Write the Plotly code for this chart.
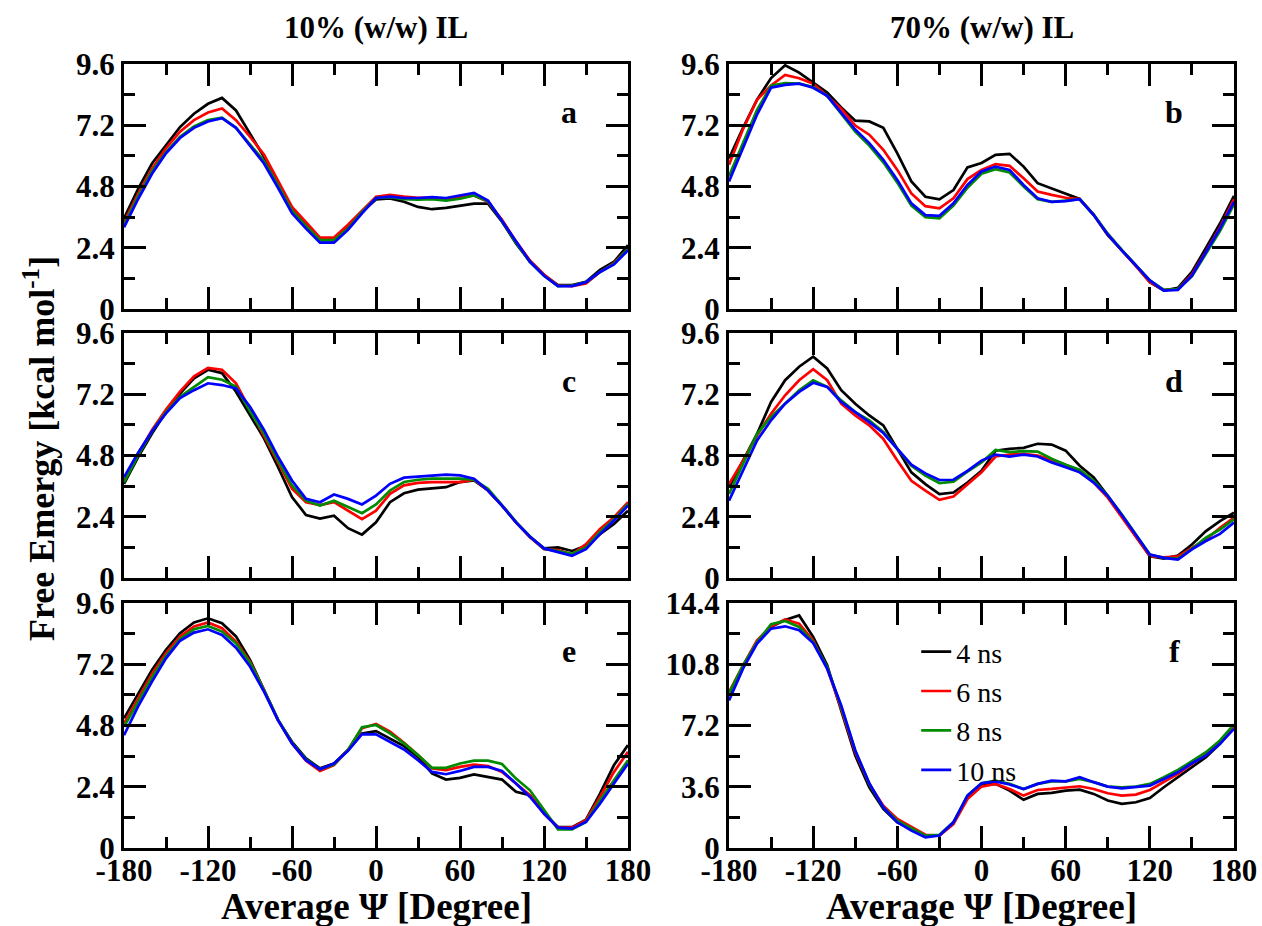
import plotly.graph_objects as go

# ---------------- data ----------------
psi = [-180, -170, -160, -150, -140, -130, -120, -110, -100, -90, -80, -70, -60, -50, -40, -30, -20, -10,
       0, 10, 20, 30, 40, 50, 60, 70, 80, 90, 100, 110, 120, 130, 140, 150, 160, 170, 180]

series_names = ["4 ns", "6 ns", "8 ns", "10 ns"]
series_colors = ["#000000", "#ff0000", "#008b00", "#0000ff"]

# panel a : 10% IL
a_4 = [3.55, 4.7, 5.7, 6.4, 7.13, 7.65, 8.04, 8.27, 7.78, 6.87, 5.96, 4.85, 3.87, 3.29, 2.7, 2.7, 3.22, 3.81,
       4.29, 4.33, 4.2, 4.0, 3.91, 3.96, 4.04, 4.13, 4.13, 3.42, 2.57, 1.85, 1.33, 0.94, 0.94, 1.07, 1.53, 1.85, 2.5]
a_6 = [3.4, 4.5, 5.5, 6.3, 6.95, 7.4, 7.7, 7.86, 7.4, 6.75, 6.05, 5.0, 4.0, 3.4, 2.8, 2.8, 3.3, 3.85,
       4.4, 4.47, 4.4, 4.36, 4.36, 4.32, 4.38, 4.45, 4.2, 3.5, 2.65, 1.9, 1.35, 0.92, 0.9, 1.0, 1.45, 1.8, 2.35]
a_8 = [3.3, 4.4, 5.4, 6.15, 6.75, 7.15, 7.4, 7.5, 7.1, 6.45, 5.8, 4.85, 3.85, 3.25, 2.7, 2.7, 3.15, 3.8,
       4.35, 4.38, 4.3, 4.28, 4.3, 4.25, 4.32, 4.45, 4.22, 3.45, 2.6, 1.85, 1.3, 0.9, 0.92, 1.05, 1.45, 1.78, 2.35]
a_10 = [3.2, 4.3, 5.3, 6.1, 6.7, 7.1, 7.35, 7.48, 7.1, 6.4, 5.7, 4.75, 3.75, 3.15, 2.6, 2.6, 3.1, 3.75,
        4.35, 4.4, 4.35, 4.35, 4.38, 4.35, 4.45, 4.55, 4.25, 3.45, 2.6, 1.85, 1.3, 0.9, 0.9, 1.05, 1.45, 1.75, 2.3]

# panel b : 70% IL
b_4 = [5.9, 7.1, 8.2, 9.05, 9.55, 9.26, 8.87, 8.48, 7.9, 7.38, 7.35, 7.1, 6.1, 5.0, 4.4, 4.3, 4.66, 5.55,
       5.72, 6.04, 6.08, 5.58, 4.93, 4.73, 4.5, 4.31, 3.68, 2.89, 2.3, 1.71, 1.05, 0.72, 0.83, 1.45, 2.39, 3.35, 4.43]
b_6 = [5.65, 7.05, 8.2, 8.76, 9.17, 9.04, 8.83, 8.35, 7.85, 7.19, 6.83, 6.24, 5.45, 4.53, 4.03, 3.94, 4.34, 5.09,
       5.45, 5.68, 5.61, 5.12, 4.6, 4.47, 4.36, 4.31, 3.7, 2.92, 2.28, 1.68, 1.05, 0.75, 0.78, 1.35, 2.25, 3.2, 4.3]
b_8 = [5.2, 6.5, 7.8, 8.75, 8.85, 8.83, 8.7, 8.35, 7.65, 6.95, 6.4, 5.75, 4.95, 4.05, 3.6, 3.55, 4.05, 4.75,
       5.3, 5.48, 5.35, 4.8, 4.3, 4.2, 4.25, 4.3, 3.7, 2.95, 2.32, 1.72, 1.12, 0.75, 0.78, 1.28, 2.15, 3.05, 4.1]
b_10 = [5.0, 6.3, 7.62, 8.67, 8.78, 8.83, 8.67, 8.35, 7.69, 7.03, 6.5, 5.85, 5.06, 4.14, 3.68, 3.65, 4.14, 4.86,
        5.39, 5.58, 5.45, 4.86, 4.34, 4.2, 4.23, 4.3, 3.68, 2.92, 2.3, 1.71, 1.12, 0.72, 0.75, 1.31, 2.23, 3.15, 4.2]

# panel c : 10% IL
c_4 = [3.69, 4.73, 5.66, 6.5, 7.23, 7.82, 8.16, 8.03, 7.3, 6.39, 5.47, 4.35, 3.17, 2.47, 2.33, 2.44, 1.95, 1.7,
       2.18, 2.97, 3.32, 3.46, 3.52, 3.56, 3.76, 3.82, 3.43, 2.84, 2.18, 1.62, 1.16, 1.2, 1.06, 1.26, 1.72, 2.12, 2.64]
c_6 = [3.8, 4.85, 5.8, 6.6, 7.3, 7.9, 8.23, 8.16, 7.63, 6.6, 5.53, 4.55, 3.5, 2.97, 2.86, 2.97, 2.64, 2.31,
       2.64, 3.3, 3.63, 3.73, 3.76, 3.76, 3.76, 3.85, 3.43, 2.84, 2.18, 1.6, 1.13, 1.09, 0.93, 1.33, 1.92, 2.38, 2.97]
c_8 = [3.75, 4.8, 5.75, 6.5, 7.1, 7.5, 7.87, 7.77, 7.5, 6.53, 5.66, 4.61, 3.63, 3.03, 2.84, 3.03, 2.77, 2.54,
       2.88, 3.43, 3.76, 3.85, 3.89, 3.89, 3.89, 3.85, 3.5, 2.86, 2.2, 1.63, 1.15, 1.05, 0.95, 1.2, 1.8, 2.3, 2.9]
c_10 = [3.95, 4.9, 5.75, 6.45, 7.05, 7.36, 7.63, 7.56, 7.43, 6.71, 5.8, 4.75, 3.82, 3.1, 2.97, 3.27, 3.1, 2.88,
        3.23, 3.69, 3.93, 3.98, 4.02, 4.05, 4.02, 3.89, 3.43, 2.84, 2.18, 1.62, 1.16, 1.0, 0.87, 1.13, 1.72, 2.25, 2.84]

# panel d : 70% IL
d_4 = [3.55, 4.6, 5.65, 6.9, 7.75, 8.28, 8.67, 8.21, 7.36, 6.83, 6.37, 5.98, 5.06, 4.14, 3.68, 3.29, 3.35, 3.74,
       4.2, 4.99, 5.06, 5.1, 5.26, 5.23, 4.99, 4.4, 3.94, 3.22, 2.43, 1.64, 0.85, 0.76, 0.88, 1.31, 1.84, 2.23, 2.56]
d_6 = [3.68, 4.6, 5.58, 6.44, 7.16, 7.75, 8.18, 7.75, 6.83, 6.37, 5.98, 5.45, 4.6, 3.81, 3.42, 3.06, 3.19, 3.68,
       4.14, 4.76, 4.84, 4.86, 4.8, 4.63, 4.44, 4.2, 3.74, 3.15, 2.37, 1.64, 0.85, 0.81, 0.85, 1.18, 1.51, 1.97, 2.37]
d_8 = [3.29, 4.47, 5.65, 6.31, 6.83, 7.36, 7.75, 7.49, 6.96, 6.5, 6.18, 5.72, 5.06, 4.4, 4.01, 3.72, 3.77, 4.17,
       4.53, 5.02, 4.93, 4.97, 4.95, 4.67, 4.44, 4.24, 3.81, 3.22, 2.5, 1.71, 0.92, 0.79, 0.76, 1.14, 1.58, 1.9, 2.3]
d_10 = [3.03, 4.2, 5.39, 6.18, 6.83, 7.29, 7.65, 7.49, 6.9, 6.5, 6.11, 5.68, 5.06, 4.44, 4.1, 3.84, 3.85, 4.2,
        4.6, 4.83, 4.76, 4.83, 4.76, 4.53, 4.34, 4.14, 3.74, 3.22, 2.47, 1.71, 0.92, 0.79, 0.72, 1.12, 1.45, 1.73, 2.17]

# panel e : 10% IL
e_4 = [5.08, 6.06, 6.98, 7.77, 8.42, 8.84, 9.0, 8.81, 8.29, 7.37, 6.19, 5.01, 4.16, 3.51, 3.12, 3.31, 3.84, 4.49,
       4.58, 4.29, 3.99, 3.57, 2.92, 2.68, 2.75, 2.88, 2.79, 2.68, 2.2, 2.07, 1.35, 0.82, 0.82, 1.11, 2.13, 3.25, 4.03]
e_6 = [4.88, 5.86, 6.82, 7.64, 8.29, 8.68, 8.84, 8.61, 8.09, 7.3, 6.19, 5.01, 4.1, 3.42, 3.02, 3.25, 3.84, 4.69,
       4.86, 4.56, 4.12, 3.64, 3.12, 3.05, 3.18, 3.27, 3.21, 2.98, 2.53, 2.07, 1.35, 0.8, 0.8, 1.09, 2.0, 2.98, 3.77]
e_8 = [4.75, 5.73, 6.69, 7.53, 8.19, 8.57, 8.7, 8.48, 8.02, 7.26, 6.19, 5.04, 4.12, 3.47, 3.09, 3.27, 3.84, 4.73,
       4.82, 4.49, 4.1, 3.64, 3.14, 3.14, 3.31, 3.42, 3.42, 3.29, 2.72, 2.26, 1.48, 0.73, 0.73, 1.02, 1.87, 2.66, 3.44]
e_10 = [4.42, 5.54, 6.52, 7.43, 8.12, 8.44, 8.57, 8.35, 7.85, 7.11, 6.13, 5.01, 4.1, 3.44, 3.09, 3.31, 3.81, 4.46,
        4.45, 4.16, 3.86, 3.44, 2.98, 2.89, 3.02, 3.18, 3.18, 3.02, 2.53, 2.0, 1.35, 0.8, 0.76, 1.02, 1.74, 2.53, 3.31]

# panel f : 70% IL
f_4 = [9.0, 10.66, 12.13, 13.0, 13.4, 13.67, 12.41, 10.74, 8.08, 5.43, 3.57, 2.3, 1.51, 1.12, 0.73, 0.73, 1.51, 2.98,
       3.71, 3.77, 3.37, 2.83, 3.18, 3.24, 3.37, 3.43, 3.18, 2.79, 2.59, 2.69, 2.94, 3.57, 4.16, 4.79, 5.34, 6.12, 7.1]
f_6 = [9.16, 10.73, 12.2, 13.03, 13.44, 13.18, 12.2, 10.54, 8.18, 5.63, 3.77, 2.49, 1.71, 1.26, 0.78, 0.73, 1.41, 2.88,
       3.61, 3.77, 3.47, 3.08, 3.41, 3.47, 3.57, 3.63, 3.47, 3.22, 3.08, 3.14, 3.41, 3.87, 4.36, 4.94, 5.53, 6.22, 7.14]
f_8 = [9.1, 10.73, 12.1, 13.15, 13.34, 12.99, 12.1, 10.63, 8.28, 5.73, 3.77, 2.39, 1.61, 1.18, 0.73, 0.78, 1.51, 3.08,
       3.81, 3.96, 3.77, 3.47, 3.77, 3.92, 3.92, 4.06, 3.87, 3.61, 3.57, 3.61, 3.77, 4.16, 4.59, 5.1, 5.63, 6.32, 7.26]
f_10 = [8.67, 10.54, 12.01, 12.89, 13.03, 12.8, 12.05, 10.54, 8.38, 5.73, 3.81, 2.39, 1.51, 1.02, 0.63, 0.73, 1.51, 3.08,
        3.81, 3.92, 3.73, 3.47, 3.77, 3.96, 3.92, 4.16, 3.87, 3.61, 3.51, 3.57, 3.67, 4.06, 4.45, 4.98, 5.43, 6.12, 7.0]

x_tick_vals = [-180, -120, -60, 0, 60, 120, 180]
x_tick_text = ["-180", "-120", "-60", "0", "60", "120", "180"]
x_minor_vals = [-150, -90, -30, 30, 90, 150]

y_tick_vals = [0, 2.4, 4.8, 7.2, 9.6]
y_tick_text = ["0", "2.4", "4.8", "7.2", "9.6"]
y_minor_vals = [1.2, 3.6, 6.0, 8.4]

yf_tick_vals = [0, 3.6, 7.2, 10.8, 14.4]
yf_tick_text = ["0", "3.6", "7.2", "10.8", "14.4"]
yf_minor_vals = [1.8, 5.4, 9.0, 12.6]

panel_letters = ["a", "b", "c", "d", "e", "f"]
column_titles = ["10% (w/w) IL", "70% (w/w) IL"]
x_title = "Average \u03a8 [Degree]"
y_title = "Free Emergy [kcal mol<sup>-1</sup>]"

panels = [
    [a_4, a_6, a_8, a_10],
    [b_4, b_6, b_8, b_10],
    [c_4, c_6, c_8, c_10],
    [d_4, d_6, d_8, d_10],
    [e_4, e_6, e_8, e_10],
    [f_4, f_6, f_8, f_10],
]

# ---------------- layout geometry (paper fractions) ----------------
W, H = 1262, 926
col_x = [(124 / W, 628 / W), (729 / W, 1234 / W)]
row_y = [(1 - 309 / H, 1 - 64 / H), (1 - 578 / H, 1 - 333 / H), (1 - 848 / H, 1 - 603 / H)]

FONT = "Liberation Serif, Times New Roman, Times, serif"

fig = go.Figure()
layout = dict(
    width=W, height=H, autosize=False,
    margin=dict(l=0, r=0, t=0, b=0, pad=0, autoexpand=False),
    paper_bgcolor="white", plot_bgcolor="white",
    font=dict(family=FONT, color="black"),
    showlegend=True,
    legend=dict(x=0.726, y=0.323, xanchor="left", yanchor="top",
                font=dict(family=FONT, size=28, color="black"),
                bgcolor="rgba(0,0,0,0)", borderwidth=0, tracegroupgap=0,
                itemwidth=30),
)

annotations = []
for i in range(6):
    r, c = divmod(i, 2)
    idx = i + 1
    xa = "xaxis" if idx == 1 else f"xaxis{idx}"
    ya = "yaxis" if idx == 1 else f"yaxis{idx}"
    xr = "x" if idx == 1 else f"x{idx}"
    yr = "y" if idx == 1 else f"y{idx}"
    is_f = (i == 5)
    layout[xa] = dict(
        domain=list(col_x[c]), anchor=yr, range=[-180, 180], automargin=False,
        showline=True, linewidth=3, linecolor="black", mirror="ticks",
        ticks="inside", ticklen=22, tickwidth=2.5, tickcolor="black",
        tickmode="array", tickvals=x_tick_vals, ticktext=x_tick_text,
        showticklabels=(r == 2), ticklabelstandoff=-7,
        tickfont=dict(family=FONT, size=31, color="black", weight="bold"),
        minor=dict(ticks="inside", ticklen=11, tickwidth=2.5, tickcolor="black",
                   tickvals=x_minor_vals),
        showgrid=False, zeroline=False,
    )
    layout[ya] = dict(
        domain=list(row_y[r]), anchor=xr, automargin=False,
        range=[0, 14.4] if is_f else [0, 9.6],
        showline=True, linewidth=3, linecolor="black", mirror="ticks",
        ticks="inside", ticklen=22, tickwidth=2.5, tickcolor="black",
        tickmode="array",
        tickvals=yf_tick_vals if is_f else y_tick_vals,
        ticktext=yf_tick_text if is_f else y_tick_text,
        tickfont=dict(family=FONT, size=31, color="black", weight="bold"),
        minor=dict(ticks="inside", ticklen=11, tickwidth=2.5, tickcolor="black",
                   tickvals=yf_minor_vals if is_f else y_minor_vals),
        showgrid=False, zeroline=False,
    )
    for k, ys in enumerate(panels[i]):
        fig.add_trace(go.Scatter(
            x=psi, y=ys, mode="lines", xaxis=xr, yaxis=yr,
            line=dict(color=series_colors[k], width=2.7),
            name=series_names[k], showlegend=(i == 5),
        ))
    annotations.append(dict(
        text=panel_letters[i], xref=f"{xr} domain", yref=f"{yr} domain",
        x=0.882, y=0.805, showarrow=False, xanchor="center", yanchor="middle",
        font=dict(family=FONT, size=32, color="black", weight="bold"),
    ))

for c in range(2):
    cx = (col_x[c][0] + col_x[c][1]) / 2
    annotations.append(dict(
        text=column_titles[c], xref="paper", yref="paper", x=cx, y=1 - 27 / H,
        showarrow=False, xanchor="center", yanchor="middle",
        font=dict(family=FONT, size=31, color="black", weight="bold"),
    ))
    annotations.append(dict(
        text=x_title, xref="paper", yref="paper", x=cx, y=1 - 906 / H,
        showarrow=False, xanchor="center", yanchor="middle",
        font=dict(family=FONT, size=37, color="black", weight="bold"),
    ))

annotations.append(dict(
    text=y_title, xref="paper", yref="paper", x=39 / W, y=1 - 449 / H,
    showarrow=False, xanchor="center", yanchor="middle", textangle=-90,
    font=dict(family=FONT, size=36, color="black", weight="bold"),
))

layout["annotations"] = annotations
fig.update_layout(**layout)
fig.write_html("out.html")
